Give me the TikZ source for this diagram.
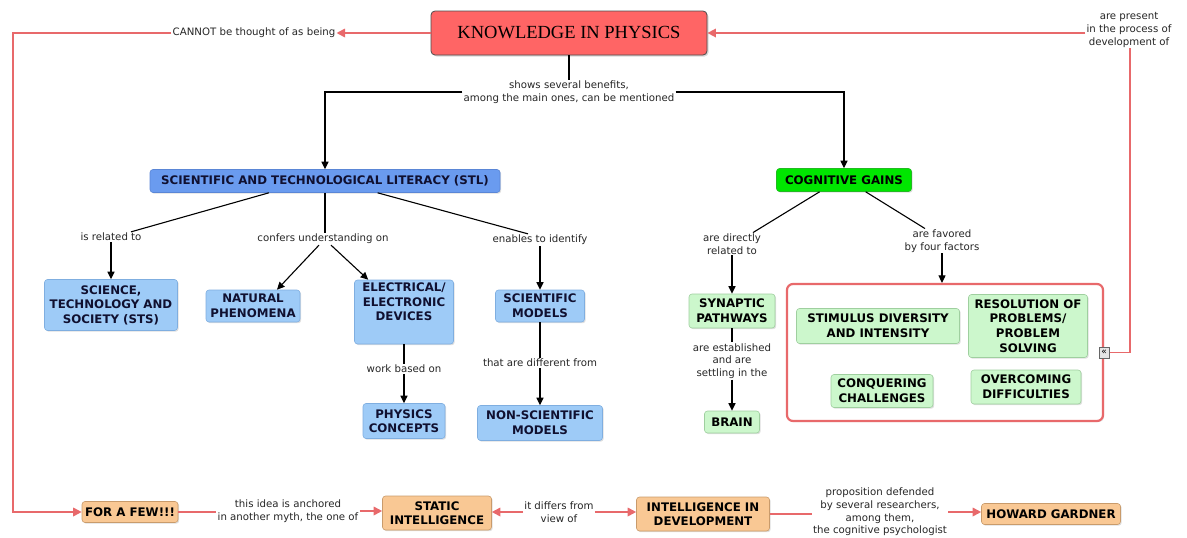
\documentclass[tikz,border=0pt]{standalone}
\usepackage{fontspec}
\setmainfont{DejaVu Sans}
\newfontfamily\titlefont{Liberation Serif}
\usetikzlibrary{arrows.meta,shadows,calc}
\definecolor{titleRed}{HTML}{FF6565}
\definecolor{pinkLine}{HTML}{E8696B}
\definecolor{stlBlue}{HTML}{6A9BEF}
\definecolor{stlBorder}{HTML}{5A86D6}
\definecolor{lBlue}{HTML}{9ECBF7}
\definecolor{lBlueB}{HTML}{7FAEE0}
\definecolor{cgGreen}{HTML}{00E600}
\definecolor{cgBorder}{HTML}{22BB22}
\definecolor{lGreen}{HTML}{CCF7CC}
\definecolor{lGreenB}{HTML}{9FCF9F}
\definecolor{peach}{HTML}{F9C894}
\definecolor{peachB}{HTML}{C99B6B}
\definecolor{navy}{HTML}{101030}
\tikzset{
  box/.style={rounded corners=3pt, align=center, font=\fontsize{11.8}{14.6}\selectfont\bfseries,
    inner xsep=3pt, inner ysep=1pt, line width=0.6pt,
    drop shadow={opacity=0.25, shadow xshift=1.2pt, shadow yshift=-1.2pt}},
  bluebox/.style={box, fill=lBlue, draw=lBlueB, text=navy},
  greenbox/.style={box, fill=lGreen, draw=lGreenB, text=black},
  peachbox/.style={box, fill=peach, draw=peachB, text=black},
  lbl/.style={font=\fontsize{10.2}{12.6}\selectfont, align=center, inner sep=1pt, fill=white, text=black!85},
  bl/.style={draw=black, line width=1.1pt},
  ba/.style={bl, -{Triangle[width=7pt,length=7.5pt]}},
  pl/.style={draw=pinkLine, line width=1.7pt},
  pa/.style={pl, -{Triangle[width=8.5pt,length=8.5pt]}},
}
\begin{document}
\begin{tikzpicture}[x=1pt,y=-1pt]
\useasboundingbox (0,0) rectangle (1187,538);
% title
\node[rounded corners=4pt, fill=titleRed, draw=black!70, line width=0.8pt,
  minimum width=276pt, minimum height=44pt, font=\titlefont\fontsize{18.5}{20}\selectfont,
  drop shadow={opacity=0.3, shadow xshift=1.5pt, shadow yshift=-1.5pt}] (title) at (569,33) {KNOWLEDGE IN PHYSICS};
% labels near title
\node[lbl] (cannot) at (254,33) {CANNOT be thought of as being};
\node[lbl] (present) at (1129,30) {are present\\in the process of\\development of};
\node[lbl] (shows) at (569,92) {shows several benefits,\\among the main ones, can be mentioned};
% main nodes
\node[box, fill=stlBlue, draw=stlBorder, text=navy, minimum width=350pt, minimum height=23pt] (stl) at (325,181) {SCIENTIFIC AND TECHNOLOGICAL LITERACY (STL)};
\node[box, fill=cgGreen, draw=cgBorder, text=black, minimum width=135pt, minimum height=23pt] (cg) at (844,180) {COGNITIVE GAINS};
% STL children
\node[lbl] (related) at (111,237) {is related to};
\node[lbl] (confers) at (323,239) {confers understanding on};
\node[lbl] (enables) at (540,240) {enables to identify};
\node[bluebox, minimum width=133pt, minimum height=51pt] (sts) at (111,305) {SCIENCE,\\TECHNOLOGY AND\\SOCIETY (STS)};
\node[bluebox, minimum width=94pt, minimum height=32pt] (nat) at (253,306) {NATURAL\\PHENOMENA};
\node[bluebox, minimum width=99pt, minimum height=64pt, inner ysep=0pt] (elec) at (404,312) {\parbox[c][58pt][t]{92pt}{\centering ELECTRICAL/\\ELECTRONIC\\DEVICES}};
\node[bluebox, minimum width=89pt, minimum height=32pt] (sci) at (540,306) {SCIENTIFIC\\MODELS};
\node[lbl] (work) at (404,369) {work based on};
\node[bluebox, minimum width=82pt, minimum height=35pt] (phys) at (404,421) {PHYSICS\\CONCEPTS};
\node[lbl] (diff) at (540,363) {that are different from};
\node[bluebox, minimum width=125pt, minimum height=35pt] (nonsci) at (540,423) {NON-SCIENTIFIC\\MODELS};
% CG children
\node[lbl] (direct) at (732,244) {are directly\\related to};
\node[lbl] (favored) at (942,241) {are favored\\by four factors};
\node[greenbox, minimum width=86pt, minimum height=34pt] (syn) at (732,311) {SYNAPTIC\\PATHWAYS};
\node[lbl] (estab) at (732,361) {are established\\and are\\settling in the};
\node[greenbox, minimum width=55pt, minimum height=22pt] (brain) at (732,422) {BRAIN};
\node[draw=pinkLine, line width=2.2pt, rounded corners=6pt, minimum width=316pt, minimum height=137pt,
  drop shadow={opacity=0.2, shadow xshift=1.2pt, shadow yshift=-1.2pt}, fill=white] (big) at (945,352.5) {};
\node[greenbox, minimum width=163pt, minimum height=35pt] (stim) at (878,326) {STIMULUS DIVERSITY\\AND INTENSITY};
\node[greenbox, minimum width=119pt, minimum height=63pt] (reso) at (1028,326) {RESOLUTION OF\\PROBLEMS/\\PROBLEM\\SOLVING};
\node[greenbox, minimum width=102pt, minimum height=33pt] (conq) at (882,391) {CONQUERING\\CHALLENGES};
\node[greenbox, minimum width=110pt, minimum height=34pt] (over) at (1026,387) {OVERCOMING\\DIFFICULTIES};
% bottom row
\node[peachbox, minimum width=96pt, minimum height=21pt] (few) at (130,512) {FOR A FEW!!!};
\node[lbl] (anch) at (288,511) {this idea is anchored\\in another myth, the one of};
\node[peachbox, minimum width=109pt, minimum height=34pt] (static) at (437,513) {STATIC\\INTELLIGENCE};
\node[lbl] (differs) at (559,512) {it differs from\\view of};
\node[peachbox, minimum width=133pt, minimum height=34pt] (indev) at (703,514) {INTELLIGENCE IN\\DEVELOPMENT};
\node[lbl] (prop) at (880,512) {proposition defended\\by several researchers,\\among them,\\the cognitive psychologist};
\node[peachbox, minimum width=139pt, minimum height=21pt] (howard) at (1051,514) {HOWARD GARDNER};
% connectors: title
\draw[bl] (title.south) -- (title.south |- shows.north);
\draw[ba] (shows.west) -| (stl.north);
\draw[ba] (shows.east) -| (cg.north);
\draw[pa] (title.west) -- (cannot.east);
\coordinate (lx) at (13,0);
\draw[pa] (cannot.west) -- (cannot.west -| lx) |- (few.west);
\draw[pa] (present.west |- title.east) -- (title.east);
\coordinate (rx) at (1130,0);
\draw[pl] (big.east) -- (big.east -| rx) -- (present.south -| rx);
\node[draw=black!60, fill=black!10, inner sep=0pt, font=\fontsize{9}{9}\selectfont, minimum width=10pt, minimum height=11pt] (icon) at (big.east) {«};
% STL connectors
\draw[bl] ($(stl.south west)!0.34!(stl.south east)$) -- ($(related.north)+(20,0)$);
\draw[ba] (related.south) -- (related.south |- sts.north);
\draw[bl] (stl.south) -- (stl.south |- confers.north);
\draw[ba] ($(confers.south)+(-4,0)$) -- ($(nat.north)+(24,0)$);
\draw[ba] ($(confers.south)+(8,0)$) -- ($(elec.north west)+(14,0)$);
\draw[bl] ($(stl.south west)!0.65!(stl.south east)$) -- ($(enables.north)+(-12,0)$);
\draw[ba] (enables.south) -- (enables.south |- sci.north);
\draw[bl] (elec.south) -- (elec.south |- work.north);
\draw[ba] (work.south) -- (work.south |- phys.north);
\draw[bl] (sci.south) -- (sci.south |- diff.north);
\draw[ba] (diff.south) -- (diff.south |- nonsci.north);
% CG connectors
\draw[bl] ($(cg.south west)!0.32!(cg.south east)$) -- ($(direct.north)+(21,0)$);
\draw[ba] (direct.south) -- (direct.south |- syn.north);
\draw[bl] ($(cg.south west)!0.66!(cg.south east)$) -- ($(favored.north)+(-17,0)$);
\draw[ba] (favored.south) -- (favored.south |- big.north);
\draw[bl] (syn.south) -- (syn.south |- estab.north);
\draw[ba] (estab.south) -- (estab.south |- brain.north);
% bottom connectors
\draw[pl] (few.east) -- (few.east -| anch.west);
\draw[pa] (anch.east) -- (anch.east -| static.west);
\draw[pa] (differs.west) -- (differs.west -| static.east);
\draw[pa] (differs.east) -- (differs.east -| indev.west);
\draw[pl] (indev.east) -- (indev.east -| prop.west);
\draw[pa] (prop.east) -- (prop.east -| howard.west);
\end{tikzpicture}
\end{document}
